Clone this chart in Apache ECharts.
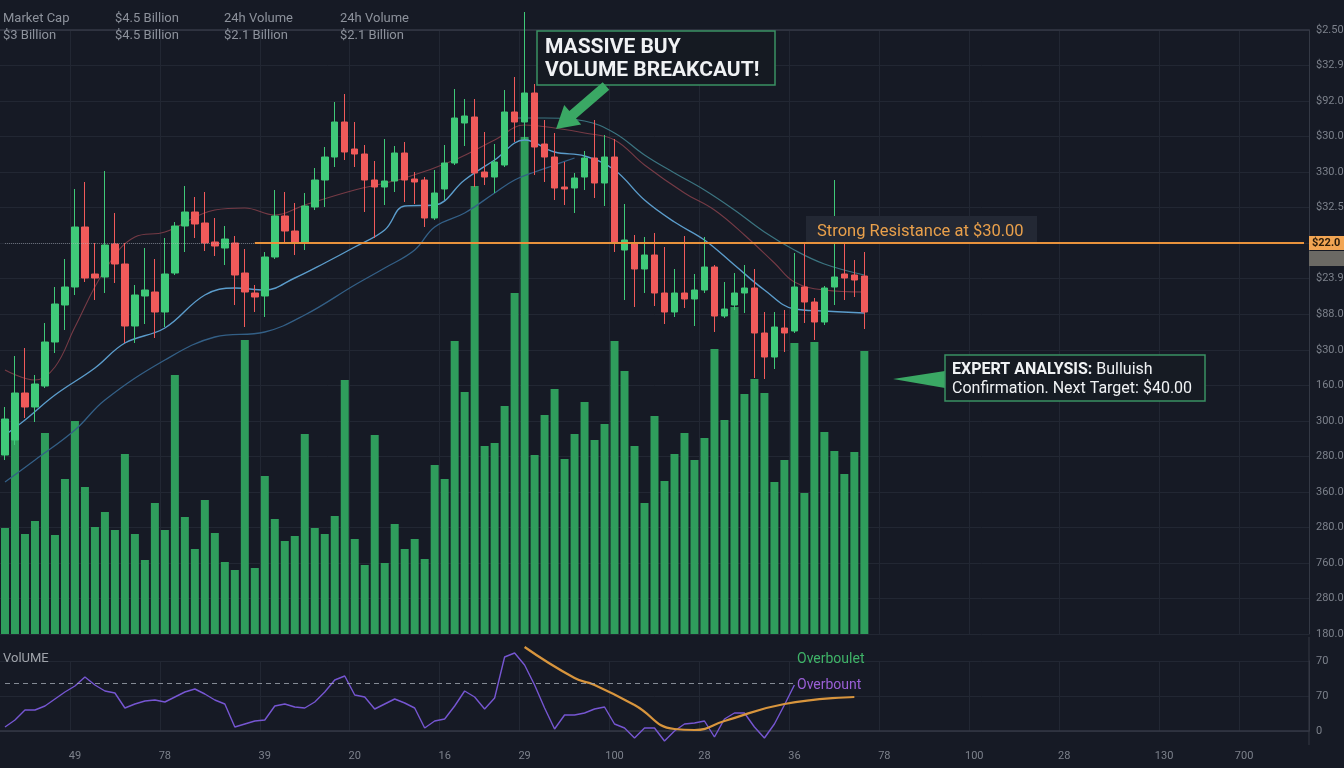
<!DOCTYPE html>
<html>
<head>
<meta charset="utf-8">
<script src="https://cdn.jsdelivr.net/npm/echarts@6/dist/echarts.min.js"></script>
<style>
  html, body { margin: 0; padding: 0; background: #161a25; }
  #chart { width: 1344px; height: 768px; }
</style>
</head>
<body>
<div id="chart"></div>
<script>
// ---- session slots (candles fill the first 87, the rest is empty space to the right) ----
const slotCount = 131;
const sessions = Array.from({ length: slotCount }, (_, i) => 'S' + i);
const xTickSlots = [7, 16, 26, 35, 44, 52, 61, 70, 79, 88, 97, 106, 116, 124];
const xTickLabels = ['49', '78', '39', '20', '16', '29', '100', '28', '36', '78', '100', '28', '130', '700'];

// ---- right-hand scale labels (top to bottom) ----
const priceTickLabels = ['$2.50', '$32.90', '$92.00', '$30.00', '330.00', '$32.50', '', '$23.90', '$88.00',
  '$30.00', '160.00', '300.00', '280.00', '360.00', '280.00', '760.00', '280.00', '180.00'];
const rsiTickLabels = { 0: '0', 35: '70', 70: '70' };

// ---- OHLC ----
const opens = [19.40,20.15,22.50,21.80,22.85,25.05,26.90,27.80,30.80,28.45,28.30,29.95,28.95,25.85,27.35,27.55,26.55,28.50,30.85,31.55,
  31.00,30.05,29.75,30.00,28.50,27.50,27.35,29.30,31.35,30.60,30.05,31.80,33.15,34.30,36.05,34.70,34.45,33.15,32.80,33.10,
  34.50,33.20,33.15,31.25,32.70,34.00,36.00,36.30,33.55,33.30,33.90,36.55,36.05,37.50,34.95,34.30,32.80,32.75,33.30,34.25,
  33.00,34.30,29.65,30.00,28.70,29.40,27.50,26.55,27.50,27.20,27.65,28.80,26.35,26.90,27.50,27.75,25.50,24.30,25.75,25.60,
  27.80,27.05,26.05,27.80,28.45,28.40,28.35];
const closes = [21.20,22.50,21.80,22.95,25.05,26.95,27.80,30.80,28.25,28.25,29.90,28.95,25.85,27.40,27.65,26.55,28.45,30.85,31.55,30.95,
  30.00,29.85,30.20,28.40,27.55,27.30,29.30,31.35,30.60,30.05,31.85,33.15,34.30,36.05,34.55,34.45,33.15,32.80,33.10,34.50,
  33.15,33.05,31.25,32.50,34.00,36.25,36.35,33.50,33.30,34.05,36.55,36.05,37.50,34.80,34.30,32.75,32.70,33.25,34.25,33.00,
  34.30,30.00,30.15,28.70,29.40,27.50,26.55,27.50,27.20,27.65,28.80,26.35,26.70,27.50,27.75,25.50,24.30,25.80,25.50,27.80,
  27.05,26.05,27.75,28.30,28.25,28.15,26.55];
const highs = [21.80,24.35,24.75,23.40,26.00,27.80,29.20,32.70,33.05,30.00,33.60,31.50,30.00,27.90,29.75,29.20,30.25,31.05,32.85,32.30,
  32.55,31.25,30.85,30.35,29.70,27.90,29.55,32.65,32.55,32.00,32.50,33.75,34.80,37.05,37.45,36.05,34.90,34.10,35.20,34.85,
  35.05,33.55,33.30,33.65,34.90,37.70,37.20,37.20,35.55,34.95,37.65,38.30,41.55,37.95,36.15,35.50,34.05,33.50,34.60,36.15,
  35.40,35.20,31.95,30.40,30.30,30.50,29.80,28.70,30.35,28.45,30.30,28.90,28.05,28.50,28.90,28.70,26.55,26.55,26.65,29.50,
  29.95,27.25,27.85,33.15,30.00,29.15,29.55];
const lows = [19.15,19.90,21.25,21.05,22.75,24.50,25.65,27.40,28.05,27.15,27.50,28.00,25.00,25.00,25.95,25.25,25.80,28.40,29.55,30.25,
  29.60,29.35,28.90,26.90,25.80,26.55,26.30,29.20,30.00,29.40,29.65,31.65,31.80,33.80,34.15,33.80,31.55,30.25,31.90,32.55,
  32.05,31.95,30.80,31.15,32.15,33.90,34.85,32.80,32.90,32.50,33.80,35.05,35.15,33.40,33.05,32.15,31.90,31.50,32.65,32.25,
  31.85,29.55,27.15,26.80,27.50,26.85,25.95,26.30,26.75,25.85,27.50,25.55,26.25,26.65,26.50,23.25,23.20,23.70,24.55,25.50,
  26.00,25.15,25.90,26.90,27.15,27.30,25.70];

// ---- traded volume ----
const volumes = [10.6,24.1,10.0,11.3,20.1,9.9,15.5,21.3,14.7,10.7,12.2,10.4,18.0,10.0,7.4,13.1,10.4,25.9,11.7,8.5,
  13.4,10.1,7.2,6.4,29.4,6.6,15.8,11.5,9.3,9.8,20.0,10.6,10.0,11.8,25.4,9.5,6.9,19.9,7.1,11.0,
  8.5,9.5,7.5,16.9,15.5,29.3,24.2,44.8,18.8,19.1,22.8,34.1,49.7,17.9,21.9,24.5,17.5,20.0,23.2,19.4,
  21.0,29.3,26.3,18.8,13.1,21.8,15.3,18.0,20.1,17.4,19.6,28.5,21.4,32.7,24.0,25.5,24.1,15.2,17.4,29.1,
  14.1,29.2,20.2,18.3,16.0,18.2,28.3];

// ---- moving averages: [slot, price] ----
const fastMA = [[0,20.40],[2,21.15],[5,22.40],[9,23.75],[12,25.00],[16,25.75],[20,27.40],[23,27.75],[26,27.65],[29,28.25],
  [32,29.00],[35,29.80],[38,30.65],[40,31.85],[43,31.90],[46,33.15],[49,34.15],[52,35.15],[55,34.55],[58,34.35],
  [61,33.65],[64,32.15],[67,31.05],[70,30.15],[73,28.90],[76,27.65],[79,26.70],[82,26.60],[86,26.50]];
const slowMA = [[0,18.05],[3,19.15],[7,20.65],[10,22.15],[16,24.15],[21,25.30],[26,25.55],[30,26.40],[35,27.90],[38,28.75],
  [41,29.65],[43,30.80],[46,31.50],[49,32.50],[51,33.15],[53,33.55],[55,33.90],[57,34.25]];
const trendMA = [[0,23.65],[3,23.15],[5,23.80],[7,25.80],[10,28.65],[13,30.30],[16,30.55],[21,31.65],[24,31.75],[27,31.40],
  [30,31.90],[35,32.65],[40,33.25],[45,34.15],[49,35.15],[52,35.90],[55,35.75],[58,35.50],[61,35.15],[64,33.90],
  [68,32.50],[71,31.65],[74,30.40],[77,29.00],[79,28.05],[82,27.65],[86,27.55]];
const upperBand = [[51,36.25],[54,36.25],[58,36.10],[61,35.50],[64,34.40],[67,33.50],[70,32.65],[73,31.65],[76,30.55],
  [79,29.65],[82,28.95],[86,28.40]];

// ---- oscillator panel ----
const rsiValues = [4,11,21,21,25,32,39,45,54,46,40,38,23,27,30,31,29,34,39,42,
  37,31,27,4,7,10,11,25,27,24,23,29,39,51,55,36,34,22,27,32,
  28,23,3,10,12,25,40,34,22,33,74,78,66,46,23,2,16,16,18,22,
  24,7,3,-7,3,3,-10,0,7,8,10,-6,12,18,18,4,-7,7,26,46];
const signalLine = [[52,84],[57,53],[59,46],[63,26],[67,2],[69,1],[72,10],[78,27],[85,34]];
const overboughtLevel = 48;
const resistancePrice = 30;

const tickSet = new Set(xTickSlots);
const tickText = {};
xTickSlots.forEach((s, i) => { tickText[s] = xTickLabels[i]; });

const FONT = 'Roboto, "Noto Sans", sans-serif';
const GRID_LINE = '#222733';
const AXIS_TEXT = '#7c818b';
const UP = '#3fc979';
const DOWN = '#f05a5a';
const HEADER = '#8d929c';

const candles = opens.map((o, i) => [o, closes[i], lows[i], highs[i]]);

const chart = echarts.init(document.getElementById('chart'), null, { renderer: 'canvas' });

function maSeries(name, data, color, width) {
  return {
    name, type: 'line', xAxisIndex: 0, yAxisIndex: 1, data,
    smooth: 0.4, showSymbol: false, silent: true, z: 2,
    lineStyle: { color, width }
  };
}

function label(x, y, text, fill, font) {
  return { type: 'text', z: 100, x, y, style: { text, fill, font, verticalAlign: 'middle' } };
}

chart.setOption({
  backgroundColor: '#161a25',
  animation: false,
  textStyle: { fontFamily: FONT },
  grid: [
    { left: 0, right: 35, top: 30, height: 604, containLabel: false, outerBoundsMode: 'none' },
    { left: 0, right: 35, top: 661, height: 70, containLabel: false, outerBoundsMode: 'none' }
  ],
  xAxis: [
    {
      gridIndex: 0, type: 'category', data: sessions, boundaryGap: true,
      axisLine: { show: true, lineStyle: { color: '#343945', width: 1.5 } },
      axisTick: { show: false }, axisLabel: { show: false },
      splitLine: { show: true, interval: (i) => tickSet.has(i), lineStyle: { color: GRID_LINE } }
    },
    {
      gridIndex: 1, type: 'category', data: sessions, boundaryGap: true, offset: 13,
      axisLine: { show: true, lineStyle: { color: '#343945', width: 1.5 } },
      axisTick: { show: false },
      axisLabel: {
        interval: (i) => tickSet.has(i),
        formatter: (v, i) => tickText[i] || '',
        color: AXIS_TEXT, fontSize: 11, margin: 7, fontFamily: FONT
      },
      splitLine: { show: true, interval: (i) => tickSet.has(i), lineStyle: { color: GRID_LINE } }
    }
  ],
  yAxis: [
    {
      gridIndex: 0, type: 'value', position: 'right', inverse: true, min: 0, max: 17, interval: 1,
      axisLine: { show: true, lineStyle: { color: '#343945' } },
      axisTick: { show: false },
      axisLabel: {
        formatter: (v) => priceTickLabels[Math.round(v)] || '',
        color: AXIS_TEXT, fontSize: 11, margin: 7, fontFamily: FONT
      },
      splitLine: { show: true, lineStyle: { color: GRID_LINE } }
    },
    { gridIndex: 0, type: 'value', min: 10.45, max: 40.65, show: false },
    { gridIndex: 0, type: 'value', min: 0, max: 60.4, show: false },
    {
      gridIndex: 1, type: 'value', position: 'right', min: 0, max: 70, interval: 35,
      axisLine: { show: true, lineStyle: { color: '#343945' } },
      axisTick: { show: false },
      axisLabel: {
        formatter: (v) => rsiTickLabels[v] || '',
        color: AXIS_TEXT, fontSize: 11, margin: 7, fontFamily: FONT
      },
      splitLine: { show: true, lineStyle: { color: GRID_LINE } }
    }
  ],
  series: [
    {
      name: 'Volume', type: 'bar', xAxisIndex: 0, yAxisIndex: 2, data: volumes,
      barWidth: 8, silent: true, z: 1,
      itemStyle: { color: '#2f9d5c' }
    },
    maSeries('MA slow', slowMA, '#335f86', 1.3),
    maSeries('MA trend', trendMA, 'rgba(150,70,80,0.75)', 1.1),
    maSeries('Upper band', upperBand, '#3b7480', 1.2),
    maSeries('MA fast', fastMA, '#5b9ccb', 1.4),
    {
      name: 'Price', type: 'candlestick', xAxisIndex: 0, yAxisIndex: 1, data: candles,
      barWidth: 7, clip: false, z: 4, silent: true,
      itemStyle: { color: UP, color0: DOWN, borderColor: UP, borderColor0: DOWN, borderWidth: 1 },
      markLine: {
        silent: true, symbol: 'none', label: { show: false },
        data: [
          [
            { coord: [0, resistancePrice], lineStyle: { color: 'rgba(190,195,205,0.45)', width: 1, type: 'dotted' } },
            { coord: [25, resistancePrice] }
          ],
          [
            { coord: [25, resistancePrice], lineStyle: { color: '#e8923c', width: 2, type: 'solid' } },
            { coord: [130, resistancePrice] }
          ]
        ]
      }
    },
    {
      name: 'RSI', type: 'line', xAxisIndex: 1, yAxisIndex: 3, data: rsiValues,
      showSymbol: false, clip: false, silent: true, z: 3,
      lineStyle: { color: '#7656d2', width: 1.4 },
      markLine: {
        silent: true, symbol: 'none', label: { show: false },
        lineStyle: { color: 'rgba(170,176,186,0.75)', width: 1.2, type: [5, 4] },
        data: [[{ coord: [0, overboughtLevel] }, { coord: [79, overboughtLevel] }]]
      }
    },
    {
      name: 'Signal', type: 'line', xAxisIndex: 1, yAxisIndex: 3, data: signalLine,
      smooth: 0.5, showSymbol: false, clip: false, silent: true, z: 4,
      lineStyle: { color: '#d8953d', width: 2.2 }
    }
  ],
  graphic: [
    // market summary header
    label(3, 19, 'Market Cap', HEADER, '13px ' + FONT),
    label(3, 36, '$3 Billion', HEADER, '13px ' + FONT),
    label(115, 19, '$4.5 Billion', HEADER, '13px ' + FONT),
    label(115, 36, '$4.5 Billion', HEADER, '13px ' + FONT),
    label(224, 19, '24h Volume', HEADER, '13px ' + FONT),
    label(224, 36, '$2.1 Billion', HEADER, '13px ' + FONT),
    label(340, 19, '24h Volume', HEADER, '13px ' + FONT),
    label(340, 36, '$2.1 Billion', HEADER, '13px ' + FONT),

    // breakout call-out
    { type: 'rect', z: 90, shape: { x: 537, y: 31, width: 238, height: 54 },
      style: { fill: '#151a22', stroke: '#3a9163', lineWidth: 1.5 } },
    label(545, 48, 'MASSIVE BUY', '#f0f2f4', 'bold 21px ' + FONT),
    label(545, 71, 'VOLUME BREAKCAUT!', '#f0f2f4', 'bold 21px ' + FONT),
    { type: 'polygon', z: 90, shape: { points: [[602.7, 82.2], [609.3, 89.8], [576.0, 118.5], [581.2, 124.5], [556, 129], [564.2, 104.9], [569.4, 110.9]] },
      style: { fill: '#3aa864' } },

    // resistance label
    { type: 'rect', z: 90, shape: { x: 806, y: 216, width: 231, height: 26 }, style: { fill: '#232834' } },
    label(817, 232, 'Strong Resistance at $30.00', '#e9a04b', '16.5px ' + FONT),

    // price tags on the scale
    { type: 'rect', z: 90, shape: { x: 1309, y: 236, width: 35, height: 14 }, style: { fill: '#f2a553' } },
    label(1312, 243.5, '$22.0', '#2b1c0a', 'bold 11px ' + FONT),
    { type: 'rect', z: 90, shape: { x: 1309, y: 251, width: 35, height: 15 }, style: { fill: '#6b6964' } },

    // analysis call-out
    { type: 'polygon', z: 90, shape: { points: [[893, 379], [945, 371], [945, 388]] }, style: { fill: '#3aa864' } },
    { type: 'rect', z: 90, shape: { x: 945, y: 355, width: 260, height: 46 },
      style: { fill: '#161b23', stroke: '#3a9163', lineWidth: 1.5 } },
    { type: 'text', z: 100, x: 952, y: 360,
      style: {
        text: '{b|EXPERT ANALYSIS:}{n| Bulluish}\n{n|Confirmation. Next Target: $40.00}',
        rich: {
          b: { fill: '#f0f2f4', fontWeight: 'bold', fontSize: 16, fontFamily: FONT, lineHeight: 19 },
          n: { fill: '#f0f2f4', fontSize: 16, fontFamily: FONT, lineHeight: 19 }
        }
      } },

    // oscillator panel captions
    label(3, 659, 'VolUME', '#a0a4ab', '13px ' + FONT),
    label(797, 659, 'Overboulet', '#3fb368', '14px ' + FONT),
    label(797, 685, 'Overbount', '#9a5fd6', '14px ' + FONT),
    { type: 'line', z: 50, shape: { x1: 1309, y1: 637, x2: 1309, y2: 745 }, style: { stroke: '#343945', lineWidth: 1 } }
  ]
});
</script>
</body>
</html>
